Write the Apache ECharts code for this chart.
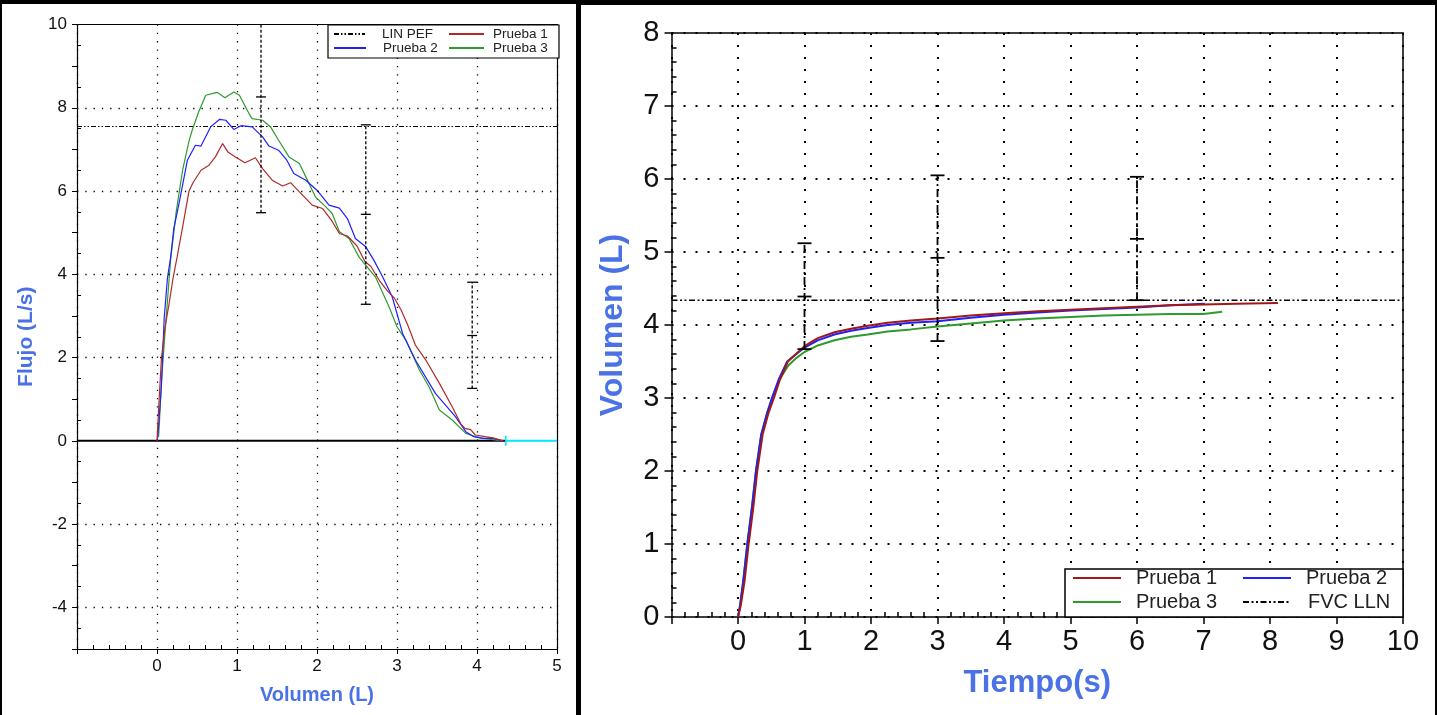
<!DOCTYPE html>
<html>
<head>
<meta charset="utf-8">
<script src="https://cdn.jsdelivr.net/npm/echarts@6/dist/echarts.min.js"></script>
<style>
html,body{margin:0;padding:0;background:#fff;width:1437px;height:715px;overflow:hidden;}
#left{position:absolute;left:0;top:0;width:578px;height:715px;box-sizing:border-box;border-top:4px solid #000;border-left:2px solid #000;border-right:2px solid #000;}
#right{position:absolute;left:578px;top:0;width:859px;height:715px;box-sizing:border-box;border-top:5px solid #000;border-left:3px solid #000;border-right:2px solid #000;}
</style>
</head>
<body>
<div id="left"></div>
<div id="right"></div>
<script>
// ---------- DATA: flow-volume (left) ----------
const leftXTicks = [0, 1, 2, 3, 4, 5];
const leftYTicks = [-4, -2, 0, 2, 4, 6, 8, 10];
const leftYGrid = [-4, -2, 2, 4, 6, 8];
const linPef = 7.55;
const flowP1 = [[0,0],[0.02,0.76],[0.055,1.97],[0.1,2.73],[0.15,3.28],[0.2,3.9],[0.25,4.4],[0.33,5.24],[0.4,6.0],[0.45,6.2],[0.55,6.5],[0.65,6.62],[0.73,6.82],[0.82,7.14],[0.89,6.93],[0.98,6.82],[1.1,6.68],[1.23,6.8],[1.32,6.54],[1.44,6.26],[1.57,6.12],[1.67,6.2],[1.78,5.98],[1.94,5.66],[2.07,5.58],[2.18,5.3],[2.28,4.98],[2.38,4.92],[2.5,4.68],[2.6,4.3],[2.67,4.2],[2.78,3.85],[2.88,3.6],[2.97,3.42],[3.05,3.15],[3.13,2.8],[3.23,2.3],[3.36,1.94],[3.53,1.38],[3.69,0.82],[3.8,0.4],[3.85,0.3],[3.92,0.27],[3.98,0.14],[4.1,0.1],[4.2,0.07],[4.33,0]];
const flowP2 = [[0,0],[0.01,0.1],[0.055,1.31],[0.09,2.95],[0.13,3.9],[0.17,4.4],[0.21,5.1],[0.275,5.7],[0.38,6.74],[0.48,7.1],[0.55,7.08],[0.67,7.54],[0.78,7.72],[0.86,7.7],[0.96,7.48],[1.05,7.57],[1.19,7.54],[1.32,7.3],[1.4,7.08],[1.52,6.98],[1.62,6.75],[1.71,6.42],[1.86,6.26],[2.0,6.02],[2.15,5.66],[2.28,5.59],[2.38,5.34],[2.48,4.86],[2.61,4.66],[2.71,4.34],[2.82,3.94],[2.94,3.46],[3.07,2.58],[3.23,1.94],[3.48,1.14],[3.73,0.58],[3.86,0.22],[3.96,0.1],[4.07,0.06],[4.2,0.06],[4.31,0]];
const flowP3 = [[0.02,0.1],[0.03,0.44],[0.055,1.4],[0.1,2.6],[0.14,3.6],[0.17,4.34],[0.24,5.5],[0.32,6.5],[0.4,7.2],[0.44,7.46],[0.52,7.9],[0.61,8.3],[0.75,8.37],[0.85,8.24],[0.96,8.38],[1.03,8.3],[1.15,7.86],[1.19,7.74],[1.32,7.7],[1.42,7.54],[1.52,7.22],[1.65,6.82],[1.78,6.66],[1.86,6.34],[1.98,5.86],[2.11,5.62],[2.19,5.46],[2.28,5.02],[2.4,4.86],[2.53,4.4],[2.73,3.94],[2.9,3.22],[3.0,2.74],[3.11,2.42],[3.28,1.7],[3.4,1.3],[3.53,0.74],[3.69,0.5],[3.86,0.18],[3.98,0.1],[4.1,0.05],[4.23,0.02],[4.28,0]];
const zeroLine = [[-1,0],[4.36,0]];
const inspLine = [[4.36,0],[5,0]];
const inspMark = [[4.36,-0.12],[4.36,0.12]];
// predicted-value bars: x, low, mean, high
const pefBarX = [1.3, 2.61, 3.94];
const pefBarLow = [5.48, 3.28, 1.26];
const pefBarMid = [8.26, 5.44, 2.53];
const pefBarHigh = [11.04, 7.59, 3.81];

// ---------- DATA: volume-time (right) ----------
const rightXTicks = [0,1,2,3,4,5,6,7,8,9,10];
const rightYTicks = [0,1,2,3,4,5,6,7,8];
const fvcLln = 4.34;
const volP1 = [[0,0],[0.04,0.15],[0.1,0.5],[0.16,1.0],[0.23,1.5],[0.29,2.0],[0.37,2.5],[0.46,2.8],[0.54,3.0],[0.63,3.25],[0.75,3.5],[0.87,3.6],[1.0,3.71],[1.2,3.82],[1.45,3.9],[1.7,3.95],[1.95,3.99],[2.25,4.03],[2.6,4.06],[3.0,4.09],[3.5,4.13],[4.0,4.16],[4.5,4.19],[5.0,4.21],[5.5,4.23],[6.0,4.25],[6.5,4.27],[7.0,4.28],[7.5,4.29],[8.12,4.3]];
const volP2 = [[0,0],[0.03,0.15],[0.08,0.5],[0.14,1.0],[0.21,1.5],[0.27,2.0],[0.35,2.5],[0.44,2.8],[0.51,3.0],[0.61,3.25],[0.74,3.5],[0.87,3.6],[1.0,3.69],[1.2,3.79],[1.45,3.87],[1.7,3.92],[1.95,3.96],[2.25,4.0],[2.6,4.03],[3.0,4.05],[3.5,4.1],[4.0,4.14],[4.5,4.17],[5.0,4.2],[5.5,4.22],[6.0,4.24],[6.5,4.27],[7.02,4.29]];
const volP3 = [[0,0],[0.03,0.15],[0.08,0.5],[0.14,1.0],[0.21,1.5],[0.27,2.0],[0.35,2.5],[0.44,2.8],[0.52,3.0],[0.62,3.25],[0.76,3.45],[0.88,3.55],[1.0,3.63],[1.2,3.72],[1.45,3.79],[1.7,3.84],[1.95,3.87],[2.25,3.91],[2.6,3.94],[3.0,3.98],[3.5,4.02],[4.0,4.06],[4.5,4.09],[5.0,4.11],[5.5,4.13],[6.0,4.14],[6.5,4.15],[7.0,4.15],[7.28,4.18]];
const fvcBarX = [1, 3, 6];
const fvcBarLow = [3.67, 3.78, 4.34];
const fvcBarMid = [4.39, 4.92, 5.18];
const fvcBarHigh = [5.12, 6.05, 6.03];

// ---------- helpers ----------
const FONT = "'Liberation Sans', Arial, sans-serif";
const TITLE_BLUE = '#4a72e6';
const RED = '#b02a2a', BLUE = '#2020ff', GREEN = '#2e9b2e';

function zipBars(xs, lo, mid, hi) { return xs.map((x, i) => [x, lo[i], mid[i], hi[i]]); }

function errBar(capHalf, dash, width) {
  return function (params, api) {
    const cs = params.coordSys;
    const x = api.value(0);
    const pL = api.coord([x, api.value(1)]);
    const pM = api.coord([x, api.value(2)]);
    const pH = api.coord([x, api.value(3)]);
    const top = cs.y, bot = cs.y + cs.height;
    const yH = Math.max(pH[1], top), yL = Math.min(pL[1], bot);
    const st = { stroke: '#000', lineWidth: width };
    const children = [{ type: 'line', shape: { x1: pL[0], y1: yL, x2: pL[0], y2: yH }, style: Object.assign({ lineDash: dash }, st) }];
    [pL, pM, pH].forEach(p => {
      if (p[1] >= top - 0.5 && p[1] <= bot + 0.5) {
        children.push({ type: 'line', shape: { x1: p[0] - capHalf, y1: p[1], x2: p[0] + capHalf, y2: p[1] }, style: st });
      }
    });
    return { type: 'group', children };
  };
}

function legendItem(name, left, top, itemWidth, padLeft, fontSize, lineHeight) {
  return {
    data: [name], left: left, top: top, itemWidth: itemWidth, itemHeight: 10, padding: 0, z: 20,
    selectedMode: false,
    itemStyle: { opacity: 0, borderWidth: 0 },
    textStyle: { fontFamily: FONT, fontSize: fontSize, color: '#222', lineHeight: lineHeight, padding: [0, 0, 0, padLeft] }
  };
}

// ---------- LEFT CHART ----------
const leftChart = echarts.init(document.getElementById('left'));
const dotL = { color: '#000', width: 1.3, type: [1.3, 7] };
leftChart.setOption({
  animation: false,
  grid: { left: 75, right: 19, top: 20.5, bottom: 66 },
  xAxis: [{
    type: 'value', min: -1, max: 5, interval: 1,
    axisLine: { onZero: false, lineStyle: { color: '#000', width: 1.2 } },
    axisTick: { show: true, length: 5, lineStyle: { color: '#000' } },
    minorTick: { show: true, splitNumber: 5, length: -4, lineStyle: { color: '#000' } },
    axisLabel: { margin: 9, fontFamily: FONT, fontSize: 17, color: '#111', formatter: v => leftXTicks.includes(v) ? String(v) : '' },
    splitLine: { show: true, lineStyle: dotL },
    name: 'Volumen (L)', nameLocation: 'middle', nameGap: 36,
    nameTextStyle: { fontFamily: FONT, fontSize: 20, fontWeight: 'bold', color: TITLE_BLUE }
  }, {
    type: 'value', position: 'top', min: -1, max: 5,
    axisLine: { show: true, onZero: false, lineStyle: { color: '#000', width: 1.2 } },
    axisTick: { show: false }, axisLabel: { show: false }, splitLine: { show: false }
  }],
  yAxis: [{
    type: 'value', min: -5, max: 10, interval: 1,
    axisLine: { show: true, onZero: false, lineStyle: { color: '#000', width: 1.2 } },
    axisTick: { show: true, length: 5, lineStyle: { color: '#000' } },
    minorTick: { show: true, splitNumber: 2, length: -4, lineStyle: { color: '#000' } },
    axisLabel: { margin: 10, fontFamily: FONT, fontSize: 17, color: '#111', formatter: v => leftYTicks.includes(v) ? String(v) : '' },
    splitLine: { show: false },
    name: 'Flujo (L/s)', nameLocation: 'middle', nameGap: 40,
    nameTextStyle: { fontFamily: FONT, fontSize: 21, fontWeight: 'bold', color: TITLE_BLUE }
  }, {
    type: 'value', position: 'right', min: -5, max: 10,
    axisLine: { show: true, onZero: false, lineStyle: { color: '#000', width: 1.2 } },
    axisTick: { show: false }, axisLabel: { show: false }, splitLine: { show: false }
  }],
  legend: [
    legendItem('LIN PEF', 331, 23, 31, 12, 13.5, 14),
    legendItem('Prueba 1', 446, 23, 35, 4, 13.5, 14),
    legendItem('Prueba 2', 331, 37, 32, 12, 13.5, 14),
    legendItem('Prueba 3', 446, 37, 35, 4, 13.5, 14)
  ],
  graphic: [{ type: 'rect', z: 10, shape: { x: 326, y: 21, width: 231, height: 33 }, style: { fill: '#fff', stroke: '#000', lineWidth: 1.2 } }],
  series: [
    { name: 'grid', type: 'line', data: [], symbol: 'none', silent: true,
      markLine: { silent: true, symbol: 'none', label: { show: false }, lineStyle: dotL, data: leftYGrid.map(v => ({ yAxis: v })) } },
    { name: 'LIN PEF', type: 'line', data: [[-1, linPef], [5, linPef]], symbol: 'none', color: '#000',
      lineStyle: { color: '#000', width: 1, type: [5, 2, 1.5, 2, 1.5, 2] }, z: 3 },
    { name: 'zero', type: 'line', data: zeroLine, symbol: 'none', lineStyle: { color: '#000', width: 2 }, z: 2 },
    { name: 'insp', type: 'line', data: inspLine, symbol: 'none', lineStyle: { color: '#00e8ff', width: 2 }, z: 2 },
    { name: 'inspMark', type: 'line', data: inspMark, symbol: 'none', lineStyle: { color: '#00e8ff', width: 1.5 }, z: 2 },
    { name: 'Prueba 3', type: 'line', data: flowP3, symbol: 'none', color: GREEN, lineStyle: { color: GREEN, width: 1.2 }, z: 4 },
    { name: 'Prueba 2', type: 'line', data: flowP2, symbol: 'none', color: BLUE, lineStyle: { color: BLUE, width: 1.2 }, z: 4 },
    { name: 'Prueba 1', type: 'line', data: flowP1, symbol: 'none', color: RED, lineStyle: { color: RED, width: 1.2 }, z: 4 },
    { name: 'pefBars', type: 'custom', data: zipBars(pefBarX, pefBarLow, pefBarMid, pefBarHigh),
      renderItem: errBar(5, [3, 2], 1.3), encode: { x: 0, y: [1, 2, 3] }, z: 5 }
  ]
});

// ---------- RIGHT CHART ----------
const rightChart = echarts.init(document.getElementById('right'));
const dotR = { color: '#000', width: 2, type: [2, 10] };
rightChart.setOption({
  animation: false,
  grid: { left: 90.5, right: 32, top: 28, bottom: 98 },
  xAxis: [{
    type: 'value', min: -1, max: 10, interval: 1,
    axisLine: { onZero: false, lineStyle: { color: '#000', width: 1.5 } },
    axisTick: { show: true, length: 7, lineStyle: { color: '#000', width: 1.5 } },
    minorTick: { show: true, splitNumber: 5, length: -5, lineStyle: { color: '#000', width: 1.5 } },
    axisLabel: { margin: 10, fontFamily: FONT, fontSize: 29, color: '#111', formatter: v => rightXTicks.includes(v) ? String(v) : '' },
    splitLine: { show: true, lineStyle: dotR },
    name: 'Tiempo(s)', nameLocation: 'middle', nameGap: 51,
    nameTextStyle: { fontFamily: FONT, fontSize: 31, fontWeight: 'bold', color: TITLE_BLUE }
  }, {
    type: 'value', position: 'top', min: -1, max: 10,
    axisLine: { show: true, onZero: false, lineStyle: { color: '#000', width: 1.5 } },
    axisTick: { show: false }, axisLabel: { show: false }, splitLine: { show: false }
  }],
  yAxis: [{
    type: 'value', min: 0, max: 8, interval: 1,
    axisLine: { show: true, onZero: false, lineStyle: { color: '#000', width: 1.5 } },
    axisTick: { show: true, length: 7, lineStyle: { color: '#000', width: 1.5 } },
    minorTick: { show: true, splitNumber: 5, length: -5, lineStyle: { color: '#000', width: 1.5 } },
    axisLabel: { margin: 12, fontFamily: FONT, fontSize: 29, color: '#111', formatter: v => rightYTicks.includes(v) ? String(v) : '' },
    splitLine: { show: true, lineStyle: dotR },
    name: 'Volumen (L)', nameLocation: 'middle', nameGap: 42,
    nameTextStyle: { fontFamily: FONT, fontSize: 32, fontWeight: 'bold', color: TITLE_BLUE }
  }, {
    type: 'value', position: 'right', min: 0, max: 8,
    axisLine: { show: true, onZero: false, lineStyle: { color: '#000', width: 1.5 } },
    axisTick: { show: false }, axisLabel: { show: false }, splitLine: { show: false }
  }],
  legend: [
    legendItem('Prueba 1', 491, 562, 48, 10, 20, 22),
    legendItem('Prueba 2', 661, 562, 48, 10, 20, 22),
    legendItem('Prueba 3', 491, 586, 48, 10, 20, 22),
    legendItem('FVC LLN', 661, 586, 48, 12, 20, 22)
  ],
  graphic: [{ type: 'rect', z: 10, shape: { x: 484, y: 564, width: 338, height: 48 }, style: { fill: '#fff', stroke: '#000', lineWidth: 1.5 } }],
  series: [
    { name: 'FVC LLN', type: 'line', data: [[-1, fvcLln], [10, fvcLln]], symbol: 'none', color: '#000',
      lineStyle: { color: '#000', width: 1.5, type: [6, 2.5, 2, 2.5, 2, 2.5] }, z: 3 },
    { name: 'Prueba 3', type: 'line', data: volP3, symbol: 'none', color: GREEN, lineStyle: { color: GREEN, width: 2 }, z: 4 },
    { name: 'Prueba 2', type: 'line', data: volP2, symbol: 'none', color: BLUE, lineStyle: { color: BLUE, width: 2 }, z: 4 },
    { name: 'Prueba 1', type: 'line', data: volP1, symbol: 'none', color: '#a01818', lineStyle: { color: '#a01818', width: 2 }, z: 4 },
    { name: 'fvcBars', type: 'custom', data: zipBars(fvcBarX, fvcBarLow, fvcBarMid, fvcBarHigh),
      renderItem: errBar(7, [8, 3, 2, 3], 1.8), encode: { x: 0, y: [1, 2, 3] }, z: 5 }
  ]
});
</script>
</body>
</html>
